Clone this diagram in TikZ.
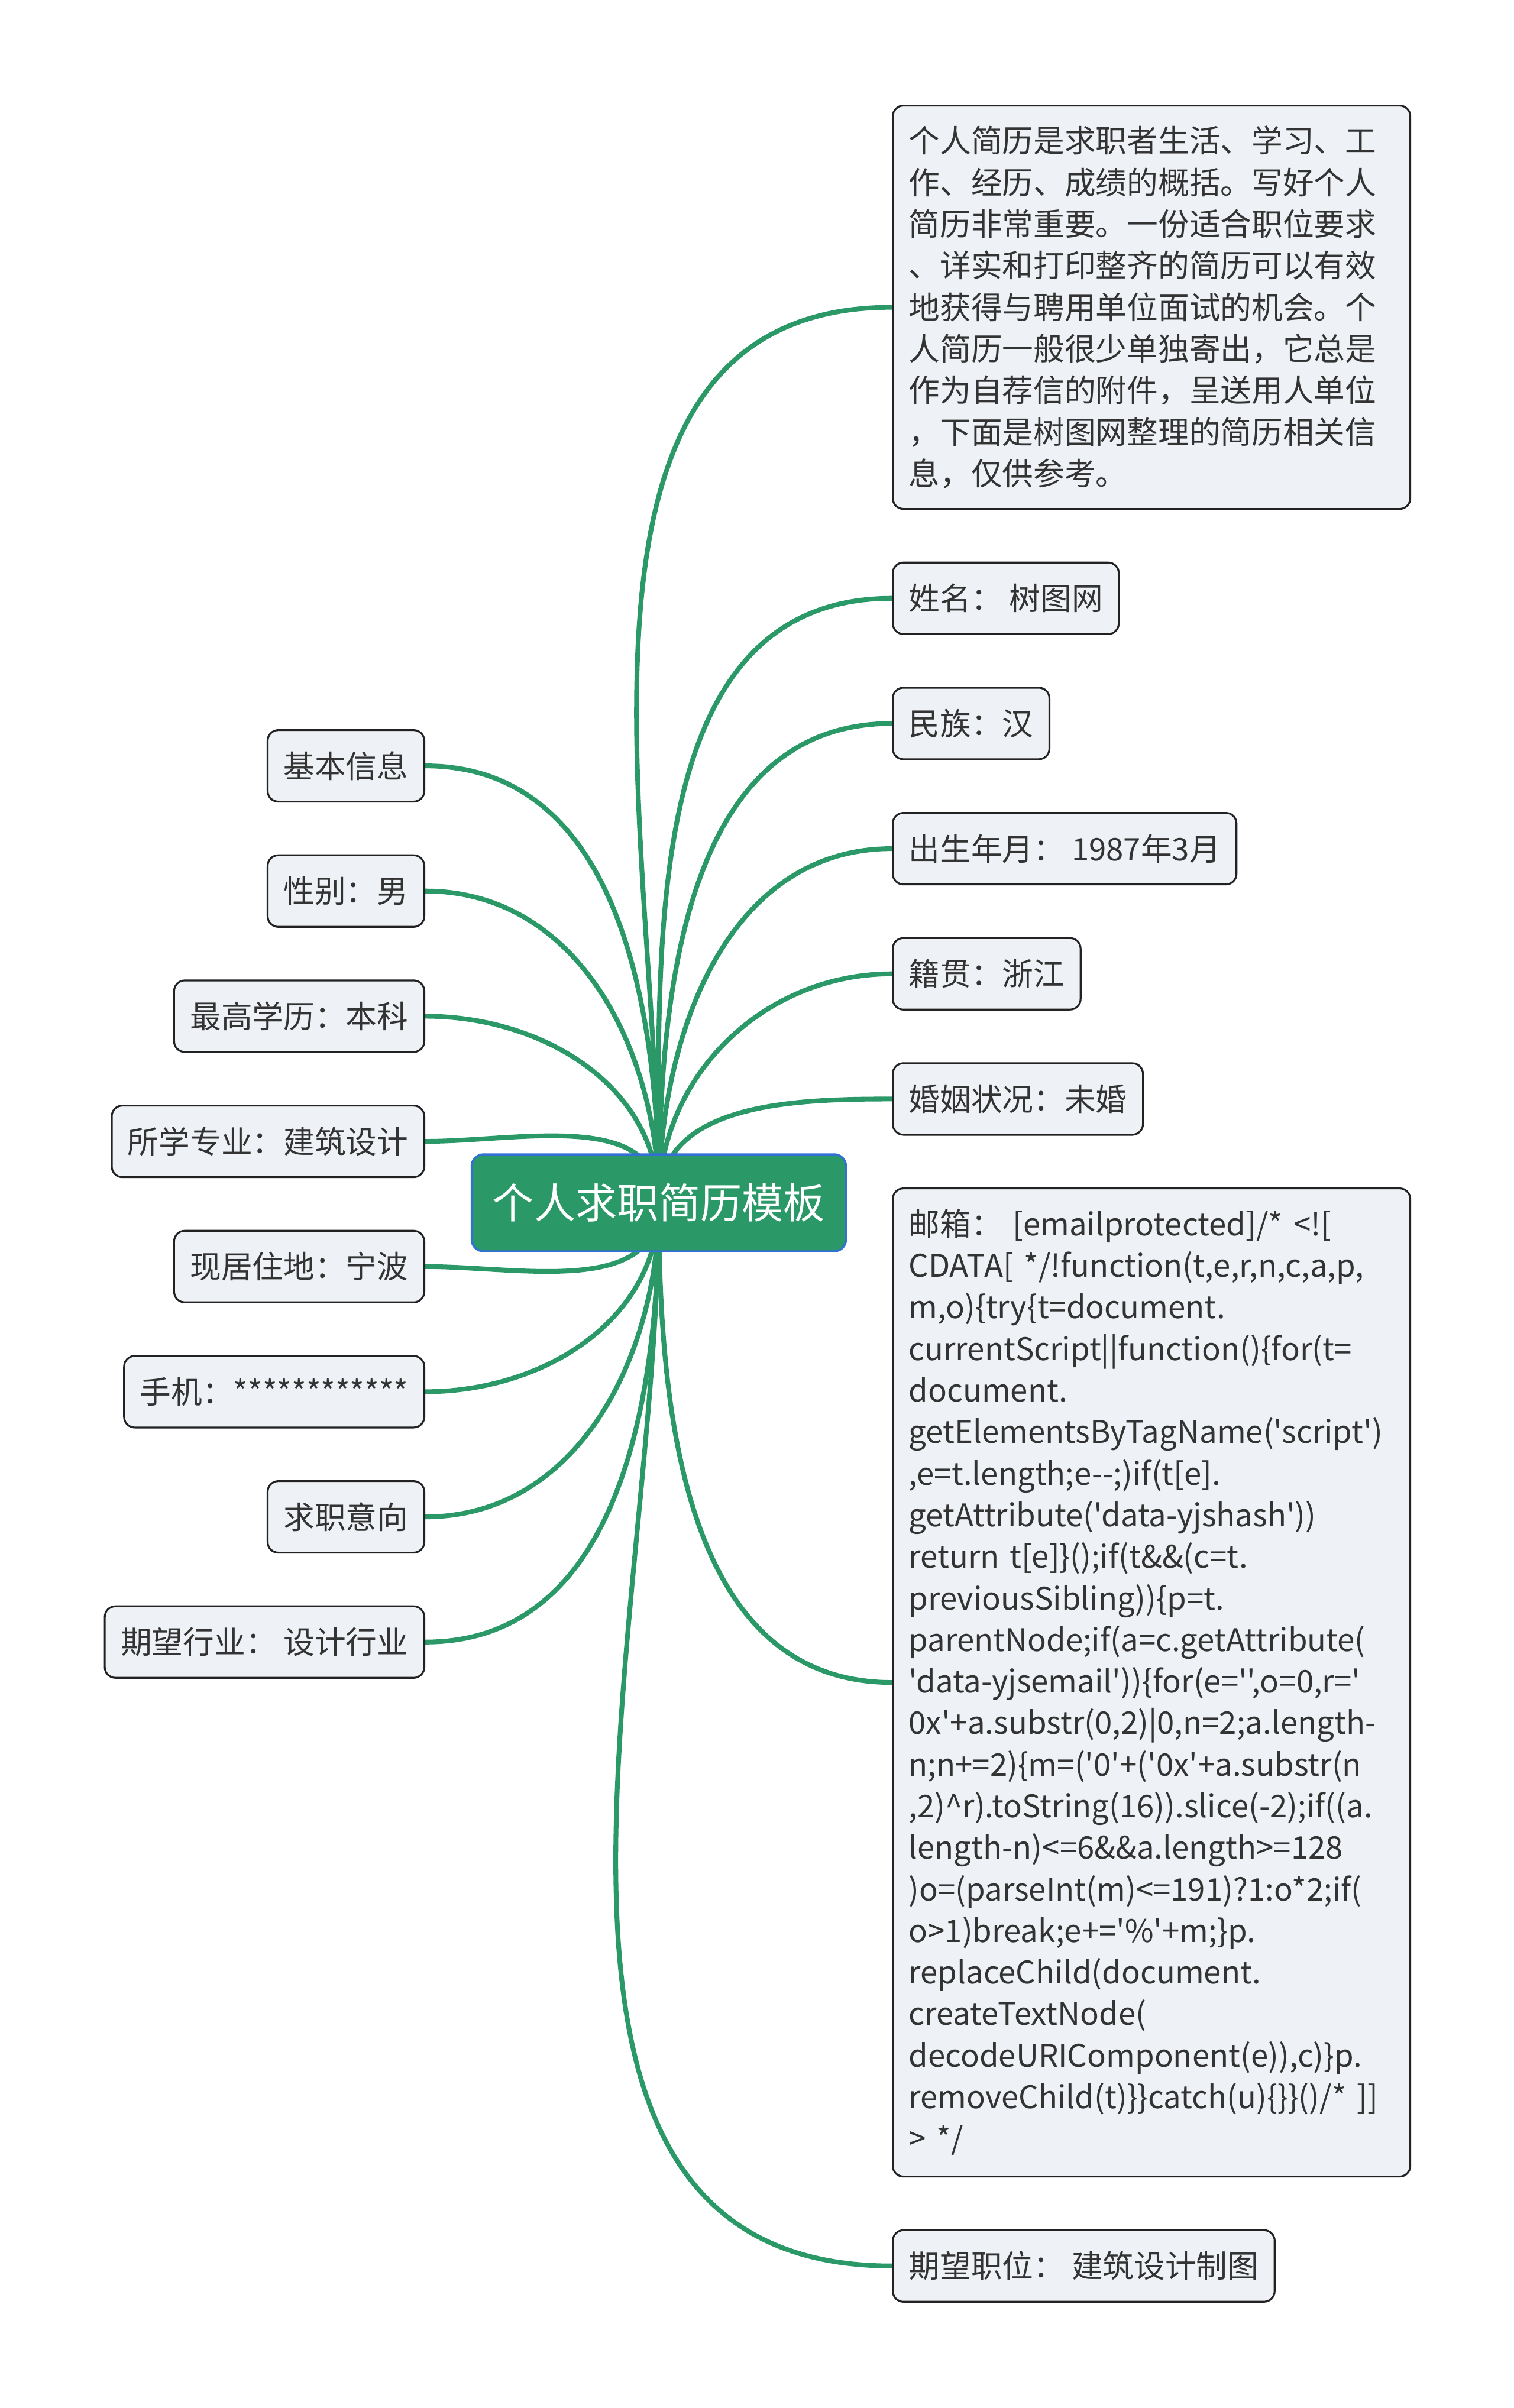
\documentclass[tikz,border=0pt]{standalone}
\usepackage{fontspec}
\setmainfont{Noto Sans CJK SC}[Ligatures=TeXOff]
\usetikzlibrary{positioning, backgrounds}
\definecolor{branchgreen}{RGB}{42,152,103}
\definecolor{rootblue}{RGB}{51,112,214}
\definecolor{leaffill}{RGB}{238,241,245}
\definecolor{leafline}{RGB}{34,34,34}
\definecolor{leaftext}{RGB}{51,51,51}

\begin{document}
\begin{tikzpicture}[
        node distance=0.875cm,
        rootbox/.style={rectangle, fill=branchgreen, draw=rootblue, line width=1pt, rounded corners=0.2cm, minimum width=6.33cm, minimum height=1.64cm, text=white, font=\fontsize{20pt}{24pt}\selectfont},
        leaf/.style={rectangle, draw=leafline, fill=leaffill, line width=0.9pt, rounded corners=0.18cm, minimum height=1.21cm, inner xsep=0.27cm, text=leaftext, font=\fontsize{15pt}{20pt}\selectfont},
        textbox/.style={leaf, text width=8.21cm, align=left},
        branch/.style={draw=branchgreen, line width=2.3pt}
    ]
        \useasboundingbox (0,0) rectangle (25.6,-40.72);

        \node[rootbox] (root) at (11.14,-20.34) {个人求职简历模板};

        \node[textbox, minimum height=6.82cm, anchor=north west] (intro) at (15.08,-1.77) {个人简历是求职者生活、学习、工\\作、经历、成绩的概括。写好个人\\简历非常重要。一份适合职位要求\\、详实和打印整齐的简历可以有效\\地获得与聘用单位面试的机会。个\\人简历一般很少单独寄出，它总是\\作为自荐信的附件，呈送用人单位\\，下面是树图网整理的简历相关信\\息，仅供参考。};
        \node[leaf, below=of intro.south west, anchor=north west] (name) {姓名：\ 树图网};
        \node[leaf, below=of name.south west, anchor=north west] (ethnic) {民族：汉};
        \node[leaf, below=of ethnic.south west, anchor=north west] (birth) {出生年月：\ 1987年3月};
        \node[leaf, below=of birth.south west, anchor=north west] (native) {籍贯：浙江};
        \node[leaf, below=of native.south west, anchor=north west] (marital) {婚姻状况：未婚};
        \node[textbox, minimum height=16.71cm, below=of marital.south west, anchor=north west] (email) {邮箱：\ [emailprotected]/* <![\\CDATA[ */!function(t,e,r,n,c,a,p,\\m,o)\{try\{t=document.\\currentScript||function()\{for(t=\\document.\\getElementsByTagName('script')\\,e=t.length;e--;)if(t[e].\\getAttribute('data-yjshash'))\\return t[e]\}();if(t\&\&(c=t.\\previousSibling))\{p=t.\\parentNode;if(a=c.getAttribute(\\'data-yjsemail'))\{for(e='',o=0,r='\\0x'+a.substr(0,2)|0,n=2;a.length-\\n;n+=2)\{m=('0'+('0x'+a.substr(n\\,2)\textasciicircum r).toString(16)).slice(-2);if((a.\\length-n)<=6\&\&a.length>=128\\)o=(parseInt(m)<=191)?1:o*2;if(\\o>1)break;e+='\%'+m;\}p.\\replaceChild(document.\\createTextNode(\\decodeURIComponent(e)),c)\}p.\\removeChild(t)\}\}catch(u)\{\}\}()/* ]]\\> */};
        \node[leaf, below=of email.south west, anchor=north west] (position) {期望职位：\ 建筑设计制图};

        \node[leaf, anchor=north east] (basic) at (7.19,-12.33) {基本信息};
        \node[leaf, below=of basic.south east, anchor=north east] (gender) {性别：男};
        \node[leaf, below=of gender.south east, anchor=north east] (degree) {最高学历：本科};
        \node[leaf, below=of degree.south east, anchor=north east] (major) {所学专业：建筑设计};
        \node[leaf, below=of major.south east, anchor=north east] (address) {现居住地：宁波};
        \node[leaf, below=of address.south east, anchor=north east] (phone) {手机：************};
        \node[leaf, below=of phone.south east, anchor=north east] (intention) {求职意向};
        \node[leaf, below=of intention.south east, anchor=north east] (industry) {期望行业：\ 设计行业};

        \begin{scope}[on background layer]
            \draw[branch] (root.center) to[out=90, in=180] (intro.west);
            \draw[branch] (root.center) to[out=90, in=180] (name.west);
            \draw[branch] (root.center) to[out=90, in=180] (ethnic.west);
            \draw[branch] (root.center) to[out=90, in=180] (birth.west);
            \draw[branch] (root.center) to[out=90, in=180] (native.west);
            \draw[branch] (root.center) to[out=90, in=180] (marital.west);
            \draw[branch] (root.center) to[out=-90, in=180] (email.west);
            \draw[branch] (root.center) to[out=-90, in=180] (position.west);
            \draw[branch] (root.center) to[out=90, in=0] (basic.east);
            \draw[branch] (root.center) to[out=90, in=0] (gender.east);
            \draw[branch] (root.center) to[out=90, in=0] (degree.east);
            \draw[branch] (root.center) to[out=90, in=0] (major.east);
            \draw[branch] (root.center) to[out=-90, in=0] (address.east);
            \draw[branch] (root.center) to[out=-90, in=0] (phone.east);
            \draw[branch] (root.center) to[out=-90, in=0] (intention.east);
            \draw[branch] (root.center) to[out=-90, in=0] (industry.east);
        \end{scope}
    \end{tikzpicture}
\end{document}
